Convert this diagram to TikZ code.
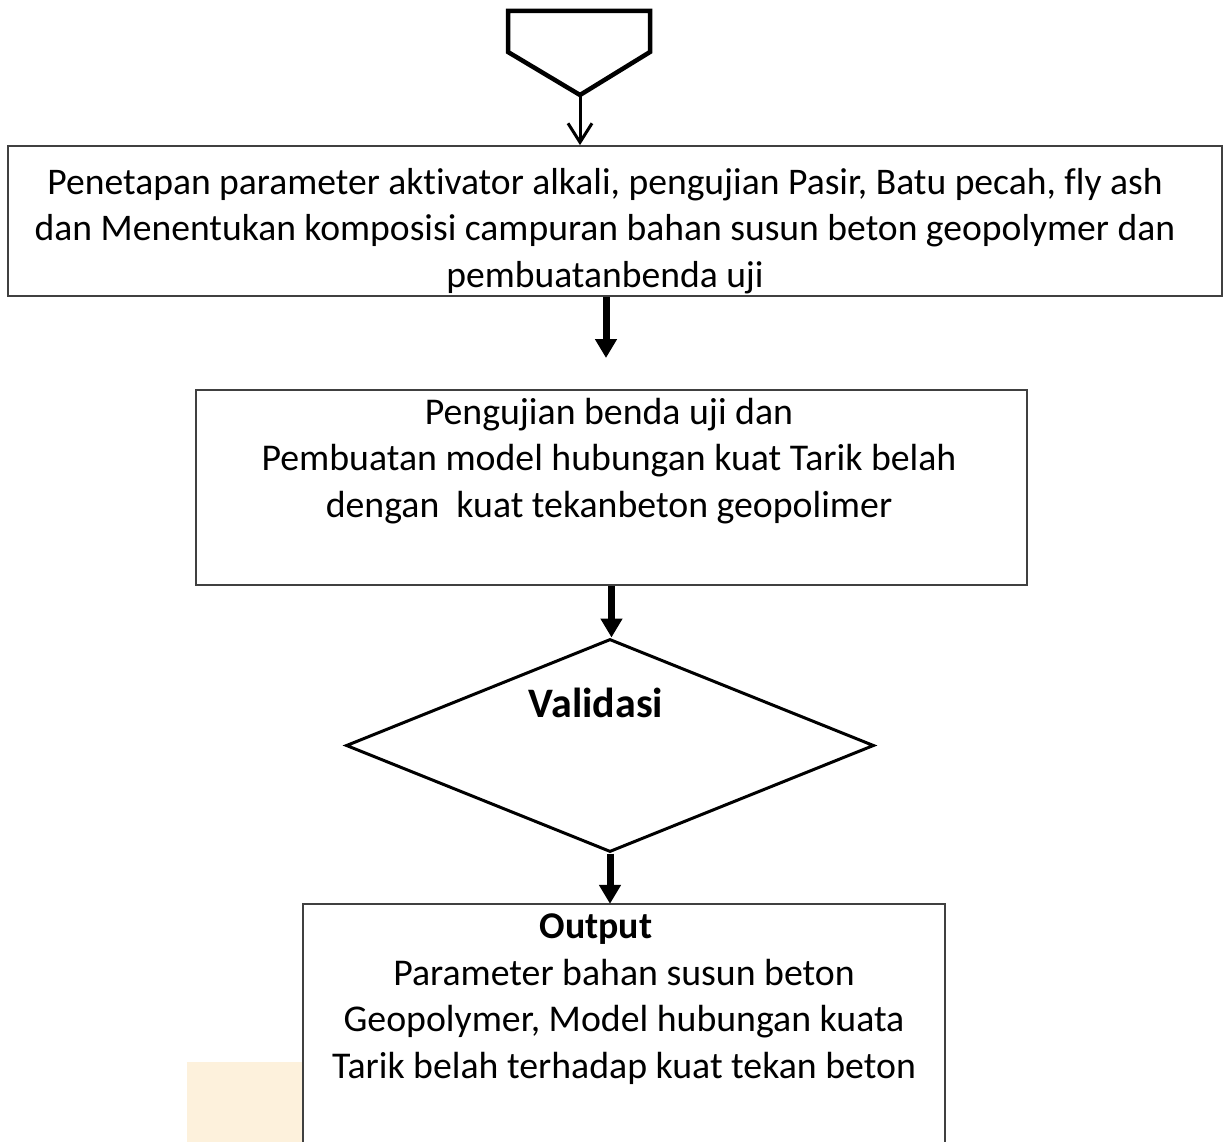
\documentclass[tikz,border=0pt]{standalone}
\usepackage{fontspec}
\setmainfont{Carlito}[Ligatures=NoCommon]
\usetikzlibrary{arrows.meta,shapes.geometric}

\begin{document}
\begin{tikzpicture}[x=1pt,y=-1pt,
  frame/.style={draw=black!75, line width=1.8pt, inner sep=0pt},
  txt/.style={align=center, inner sep=0pt, font=\fontsize{37.8}{46.5}\selectfont},
  thinflow/.style={line width=3pt, -{Straight Barb[length=19pt,width=24pt,line width=3pt]}},
  flow/.style={line width=7pt, -{Triangle[length=19pt,width=21pt]}}
]
\useasboundingbox (0,0) rectangle (1225,1142);

% background smudge at lower left
\fill[fill={rgb,255:red,253;green,241;blue,220}] (187,1062) rectangle (303,1142);

% start symbol
\draw[line width=4.5pt, line join=miter] (508,11) -- (650,11) -- (650,52) -- (580,95) -- (508,52) -- cycle;
\coordinate (start) at (580,95);

% process boxes
\node[frame, minimum width=1214pt, minimum height=150pt] (setup) at (615,221) {};
\node[txt, font=\fontsize{37.6}{46.5}\selectfont] (setuptxt) at (605,231)
  {Penetapan parameter aktivator alkali, pengujian Pasir, Batu pecah, fly ash\\
   dan Menentukan komposisi campuran bahan susun beton geopolymer dan\\
   pembuatanbenda uji};

\coordinate (gap) at (606,358);

\node[frame, minimum width=831pt, minimum height=195pt] (testing) at (611.5,487.5) {};
\node[txt] (testingtxt) at (609,461)
  {Pengujian benda uji dan\\
   Pembuatan model hubungan kuat Tarik belah\\
   dengan\ \ kuat tekanbeton geopolimer};

% decision
\node[diamond, draw, line width=3pt, inner sep=0pt, minimum width=528pt, minimum height=213pt] (valid) at (610,745.5) {};
\node[txt, font=\fontsize{42}{46.5}\selectfont\bfseries] (validtxt) at (596,703) {Validasi};

% output box, open at the bottom
\node[inner sep=0pt, minimum width=642pt, minimum height=238pt] (output) at (624,1023) {};
\draw[frame] (output.south west) -- (output.north west) -- (output.north east) -- (output.south east);
\node[txt] (outputtxt) at (624,999)
  {\textbf{Output}\hspace*{56pt}\\
   Parameter bahan susun beton\\
   Geopolymer, Model hubungan kuata\\
   Tarik belah terhadap kuat tekan beton};

% connectors
\draw[thinflow] (start) -- (start |- setup.north);
\draw[flow] (gap |- setup.south) -- (gap);
\draw[flow] (testing.south) -- (testing.south |- valid.north);
\draw[flow] (valid.south) -- (valid.south |- output.north);
\end{tikzpicture}
\end{document}
